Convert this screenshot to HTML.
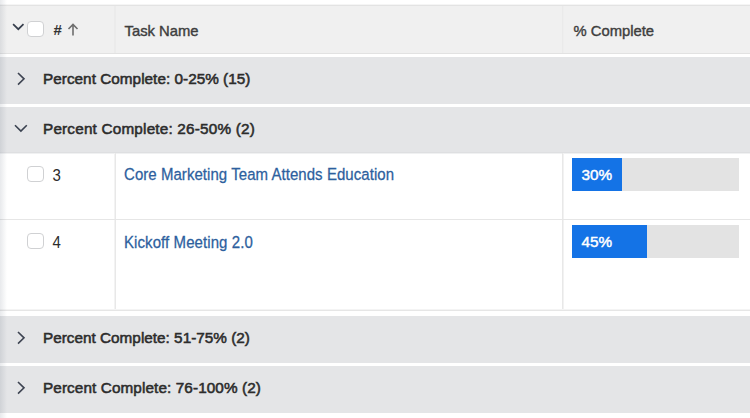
<!DOCTYPE html>
<html>
<head>
<meta charset="utf-8">
<style>
*{margin:0;padding:0;box-sizing:border-box;}
html,body{width:750px;height:418px;overflow:hidden;background:#ffffff;}
body{position:relative;font-family:"Liberation Sans",sans-serif;}
.abs{position:absolute;}
.hdr{left:0;top:5px;width:750px;height:49px;background:#f0f0f0;border-top:1px solid #e3e3e3;border-bottom:1px solid #e2e2e2;}
.hdr0{left:0;top:4px;width:750px;height:1px;background:#f5f5f5;}
.vdiv{position:absolute;width:1px;background:#e4e4e4;}
.grp{left:0;width:750px;height:47px;background:#e4e5e7;}
.gtxt{position:absolute;left:43px;font-weight:normal;font-size:15.3px;-webkit-text-stroke:0.55px #2c2c2c;letter-spacing:0.03px;color:#2c2c2c;white-space:nowrap;}
.htxt{position:absolute;font-size:14.8px;color:#3e3e3e;-webkit-text-stroke:0.4px #3e3e3e;white-space:nowrap;}
.cb{position:absolute;width:17px;height:16px;border:1.8px solid #d0d1d3;border-radius:4px;background:#fff;}
.num{position:absolute;left:52.5px;font-size:15px;color:#2c2c2c;transform:scaleY(1.06);transform-origin:0 80%;}
.link{position:absolute;left:124px;font-size:15px;color:#2d5f9e;-webkit-text-stroke:0.25px #2d5f9e;white-space:nowrap;transform:scaleY(1.1);transform-origin:0 80%;}
.bar{position:absolute;left:572px;width:167px;height:33px;background:#e3e3e3;}
.fill{position:absolute;left:0;top:0;height:33px;background:#1473e6;}
.ptxt{position:absolute;left:9.5px;top:0;line-height:33px;font-size:15.3px;font-weight:normal;-webkit-text-stroke:0.45px #fff;letter-spacing:0;color:#fff;}
.sep{left:0;width:750px;height:1px;background:#e6e6e6;}
.shadow{left:0;top:0;width:7px;height:418px;background:linear-gradient(to right,rgba(30,45,70,0.10),rgba(30,45,70,0));}
</style>
</head>
<body>
<!-- header -->
<div class="abs hdr0"></div>
<div class="abs hdr"></div>
<div class="vdiv" style="left:114px;top:6px;height:47px;width:2px;background:#ebebeb;"></div>
<div class="vdiv" style="left:562px;top:6px;height:47px;background:#eaeaea;"></div>
<div class="vdiv" style="left:563px;top:6px;height:47px;background:#eeeeee;"></div>
<svg class="abs" style="left:11px;top:21px" width="15" height="11" viewBox="0 0 15 11"><path d="M2.1 3.2 L7.3 8.2 L12.5 3.2" fill="none" stroke="#363e4c" stroke-width="1.7"/></svg>
<div class="cb" style="left:27px;top:21px;"></div>
<div class="htxt" style="left:53.5px;top:20.5px;font-weight:bold;font-size:15px;color:#333;-webkit-text-stroke:0;">#</div>
<svg class="abs" style="left:67px;top:23px" width="12" height="13" viewBox="0 0 12 13"><path d="M6 1.5 V12.5 M1.5 6 L6 1.5 L10.5 6" fill="none" stroke="#6e6e6e" stroke-width="1.6"/></svg>
<div class="htxt" style="left:124.5px;top:22.5px;">Task Name</div>
<div class="htxt" style="left:573.5px;top:22.5px;">% Complete</div>

<!-- group 1 -->
<div class="abs grp" style="top:57px;"></div>
<svg class="abs" style="left:16px;top:72px" width="10" height="14" viewBox="0 0 10 14"><path d="M2 1 L8 6.8 L2 12.6" fill="none" stroke="#3e4452" stroke-width="1.6"/></svg>
<div class="gtxt" style="top:70px;">Percent Complete: 0-25% (15)</div>

<!-- group 2 -->
<div class="abs grp" style="top:107px;"></div>
<div class="abs" style="left:0;top:152px;width:750px;height:1px;background:#dedfe1;"></div>
<div class="abs" style="left:0;top:153px;width:750px;height:1px;background:#f0f1f2;"></div>
<svg class="abs" style="left:14px;top:122px" width="14" height="11" viewBox="0 0 14 11"><path d="M1 3.2 L6.9 9.1 L12.8 3.2" fill="none" stroke="#3a4250" stroke-width="1.6"/></svg>
<div class="gtxt" style="top:120px;letter-spacing:0.19px;">Percent Complete: 26-50% (2)</div>

<!-- data rows -->
<div class="vdiv" style="left:114px;top:153px;height:157px;background:#f3f3f3;"></div>
<div class="vdiv" style="left:115px;top:153px;height:157px;background:#e8e8e8;"></div>
<div class="vdiv" style="left:562px;top:153px;height:157px;background:#e8e8e8;"></div>
<div class="vdiv" style="left:563px;top:153px;height:157px;background:#f2f2f2;"></div>
<div class="abs sep" style="top:219px;"></div>
<div class="abs sep" style="top:309px;background:#f4f4f4;"></div>
<div class="abs sep" style="top:310px;background:#e6e6e6;"></div>

<div class="cb" style="left:27px;top:166px;"></div>
<div class="num" style="top:167px;">3</div>
<div class="link" style="top:166px;letter-spacing:0.05px;">Core Marketing Team Attends Education</div>
<div class="bar" style="top:158px;"><div class="fill" style="width:50px;"><div class="ptxt">30%</div></div></div>

<div class="cb" style="left:27px;top:233px;"></div>
<div class="num" style="top:234px;">4</div>
<div class="link" style="top:233.7px;letter-spacing:0.08px;">Kickoff Meeting 2.0</div>
<div class="bar" style="top:225px;"><div class="fill" style="width:75px;"><div class="ptxt">45%</div></div></div>

<!-- group 3 -->
<div class="abs grp" style="top:316px;"></div>
<svg class="abs" style="left:16px;top:331px" width="10" height="14" viewBox="0 0 10 14"><path d="M2 1 L8 6.8 L2 12.6" fill="none" stroke="#3e4452" stroke-width="1.6"/></svg>
<div class="gtxt" style="top:329px;letter-spacing:0.01px;">Percent Complete: 51-75% (2)</div>

<!-- group 4 -->
<div class="abs grp" style="top:366px;"></div>
<svg class="abs" style="left:16px;top:381px" width="10" height="14" viewBox="0 0 10 14"><path d="M2 1 L8 6.8 L2 12.6" fill="none" stroke="#3e4452" stroke-width="1.6"/></svg>
<div class="gtxt" style="top:379px;letter-spacing:0.1px;">Percent Complete: 76-100% (2)</div>

<div class="abs shadow"></div>
</body>
</html>
